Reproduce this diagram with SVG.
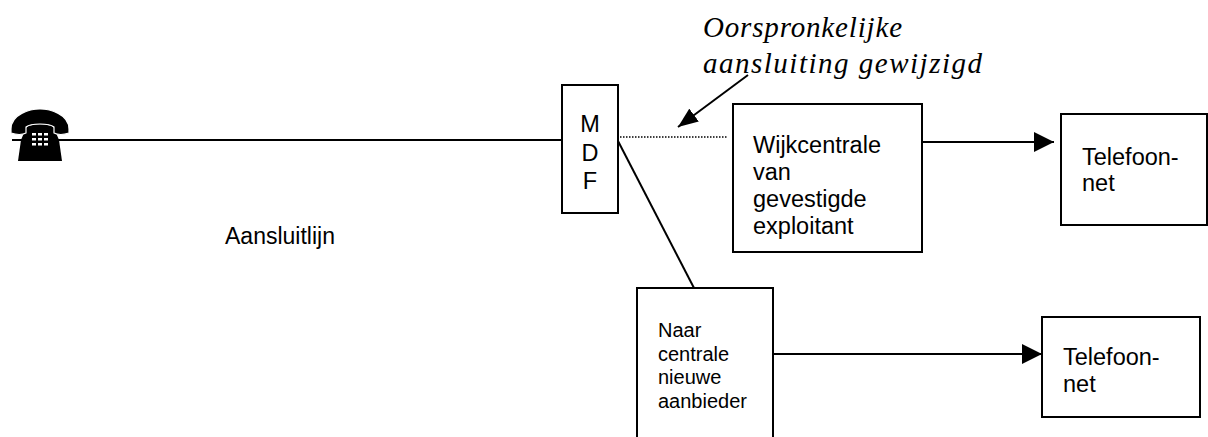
<svg xmlns="http://www.w3.org/2000/svg" width="1208" height="437" viewBox="0 0 1208 437">
  <style>
    .box { fill: #fff; stroke: #000; stroke-width: 2; }
    .ln { stroke: #000; stroke-width: 2; fill: none; }
    .dot { stroke: #000; stroke-width: 1.5; stroke-dasharray: 1.5 1.5; fill: none; }
    .t { font-family: "Liberation Sans", Arial, sans-serif; font-size: 23.5px; fill: #000; }
    .ts { font-family: "Liberation Sans", Arial, sans-serif; font-size: 20px; fill: #000; }
    .it { font-family: "Liberation Serif", "Times New Roman", serif; font-style: italic; font-size: 29px; fill: #000; }
  </style>
  <defs>
    <marker id="ah" viewBox="0 0 20 20" refX="20" refY="10" markerWidth="20" markerHeight="20" markerUnits="userSpaceOnUse" orient="auto">
      <path d="M0,0 L20,10 L0,20 Z" fill="#000"/>
    </marker>
    <marker id="ah2" viewBox="0 0 20 16" refX="20" refY="8" markerWidth="20" markerHeight="16" markerUnits="userSpaceOnUse" orient="auto">
      <path d="M0,0 L20,8 L0,16 Z" fill="#000"/>
    </marker>
  </defs>

  <g id="connectors">
    <line class="ln" x1="12" y1="140" x2="562" y2="140"/>
    <line class="dot" x1="611" y1="137" x2="727" y2="137"/>
    <line class="ln" x1="618" y1="141" x2="694" y2="288"/>
    <line class="ln" x1="922" y1="142" x2="1054" y2="142" marker-end="url(#ah)"/>
    <line class="ln" x1="773" y1="354" x2="1042" y2="354" marker-end="url(#ah)"/>
    <line class="ln" x1="748" y1="75" x2="678" y2="127" marker-end="url(#ah2)"/>
  </g>

  <g id="phone">
    <path d="M26,128 C30,123 50,123 54,128 L59,140 L62,161 L18,161 L21,140 Z" fill="#000"/>
    <path d="M11,129 C11,114 30,109 40,109 C50,109 69,114 69,129 L69,133 C63,135 58,135 54,133 L54,127 C49,123 31,123 26,127 L26,133 C22,135 17,135 11,133 Z" fill="#000" stroke="#fff" stroke-width="1.2"/>
    <g fill="#fff">
      <rect x="32" y="133" width="4" height="2.5"/>
      <rect x="38" y="133" width="4" height="2.5"/>
      <rect x="44" y="133" width="4" height="2.5"/>
      <rect x="32" y="138" width="4" height="2.5"/>
      <rect x="38" y="138" width="4" height="2.5"/>
      <rect x="44" y="138" width="4" height="2.5"/>
      <rect x="32" y="143" width="4" height="2.5"/>
      <rect x="38" y="143" width="4" height="2.5"/>
      <rect x="44" y="143" width="4" height="2.5"/>
    </g>
  </g>

  <g id="label-aansluitlijn">
    <text class="t" x="225" y="244" style="font-size:23px">Aansluitlijn</text>
  </g>

  <g id="mdf">
    <rect class="box" x="562" y="85" width="56" height="128"/>
    <text class="t" x="590" y="132" text-anchor="middle">M</text>
    <text class="t" x="590" y="161" text-anchor="middle">D</text>
    <text class="t" x="590" y="189" text-anchor="middle">F</text>
  </g>

  <g id="note">
    <text class="it" x="703" y="37" textLength="199" lengthAdjust="spacing">Oorspronkelijke</text>
    <text class="it" x="703" y="73" textLength="279" lengthAdjust="spacing">aansluiting gewijzigd</text>
  </g>

  <g id="wijkcentrale">
    <rect class="box" x="733" y="104" width="189" height="148"/>
    <text class="t" x="753" y="153">Wijkcentrale</text>
    <text class="t" x="753" y="180">van</text>
    <text class="t" x="753" y="207">gevestigde</text>
    <text class="t" x="753" y="234">exploitant</text>
  </g>

  <g id="telefoonnet-1">
    <rect class="box" x="1061" y="114" width="146" height="111"/>
    <text class="t" x="1082" y="165">Telefoon-</text>
    <text class="t" x="1082" y="191">net</text>
  </g>

  <g id="nieuwe-aanbieder">
    <rect class="box" x="637" y="288" width="136" height="160"/>
    <text class="ts" x="658" y="337">Naar</text>
    <text class="ts" x="658" y="361">centrale</text>
    <text class="ts" x="658" y="384">nieuwe</text>
    <text class="ts" x="658" y="408">aanbieder</text>
  </g>

  <g id="telefoonnet-2">
    <rect class="box" x="1042" y="317" width="158" height="100"/>
    <text class="t" x="1063" y="365">Telefoon-</text>
    <text class="t" x="1063" y="392">net</text>
  </g>
</svg>
